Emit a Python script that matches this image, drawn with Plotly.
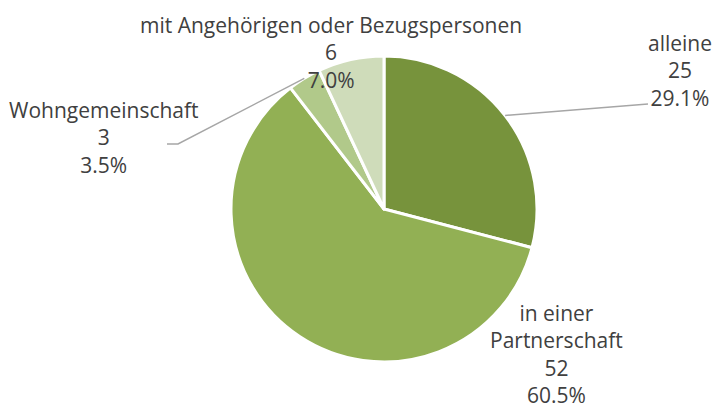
import math
import plotly.graph_objects as go

labels = ["alleine", "in einer Partnerschaft", "Wohngemeinschaft", "mit Angehörigen oder Bezugspersonen"]
display_labels = ["alleine", "in einer<br>Partnerschaft", "Wohngemeinschaft", "mit Angehörigen oder Bezugspersonen"]
values = [25, 52, 3, 6]
colors = ["#77933C", "#92B054", "#B1C98A", "#CFDCBA"]

W, H = 717, 410
CX, CY, R = 384, 209, 153

total = sum(values)
pcts = [v / total * 100 for v in values]

fig = go.Figure()
fig.add_trace(go.Pie(
    labels=labels, values=values, sort=False, direction="clockwise", rotation=0,
    marker=dict(colors=colors, line=dict(color="white", width=3)),
    textinfo="none", hoverinfo="label+value+percent", showlegend=False,
    domain=dict(x=[(CX - R) / W, (CX + R) / W], y=[(H - CY - R) / H, (H - CY + R) / H]),
))

# mid-angle edge points from the data
cum = 0
edge = []
for v in values:
    mid = (cum + v / 2) / total * 2 * math.pi
    edge.append((CX + R * math.sin(mid), CY - R * math.cos(mid)))
    cum += v

label_pos = [(680, 70), (556, 354), (104, 137), (331, 52)]
font = dict(family="Open Sans", size=21, color="#404040")
for i in range(len(values)):
    txt = f"{display_labels[i]}<br>{values[i]}<br>{pcts[i]:.1f}%"
    fig.add_annotation(x=label_pos[i][0], y=label_pos[i][1], xref="x", yref="y",
                       text=txt, showarrow=False, font=font, align="center",
                       xanchor="center", yanchor="middle")

line_style = dict(color="#A6A6A6", width=1.5)
# alleine leader
ex, ey = edge[0]
fig.add_shape(type="path", xref="x", yref="y",
              path=f"M {ex:.1f},{ey:.1f} L 648,104", line=line_style)
# Wohngemeinschaft leader
ex, ey = edge[2]
fig.add_shape(type="path", xref="x", yref="y",
              path=f"M {ex:.1f},{ey:.1f} L 178,144 L 167,144", line=line_style)

fig.update_layout(
    width=W, height=H, margin=dict(l=0, r=0, t=0, b=0),
    paper_bgcolor="white", plot_bgcolor="rgba(0,0,0,0)",
    xaxis=dict(range=[0, W], visible=False, fixedrange=True),
    yaxis=dict(range=[H, 0], visible=False, fixedrange=True),
)
fig.write_html("out.html", config={"displayModeBar": False},
               post_script="document.body.style.margin='0';")
